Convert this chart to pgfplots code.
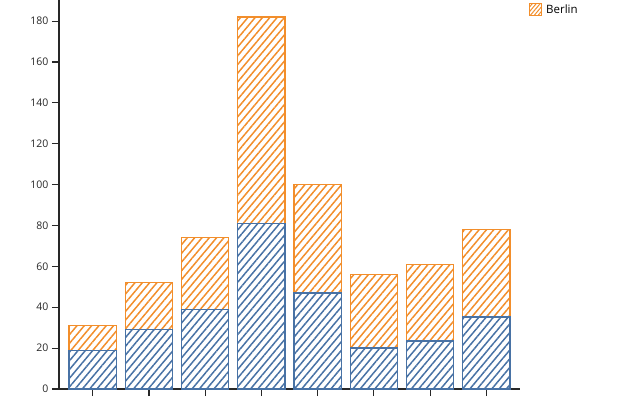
\documentclass[border=0pt]{standalone}
\usepackage{fontspec}
\setmainfont{Open Sans}
\usepackage{pgfplots}
\pgfplotsset{compat=1.18}
\usetikzlibrary{patterns.meta}
\definecolor{cblue}{RGB}{72,114,165}
\definecolor{corange}{RGB}{242,142,43}
\definecolor{axgray}{RGB}{40,40,40}
\begin{document}
\begin{tikzpicture}
\clip (0,0) rectangle (640pt,400pt);
\begin{axis}[
  at={(59pt,11pt)}, anchor=south west,
  scale only axis, width=461pt, height=408.8pt,
  xmin=-0.6, xmax=7.6, ymin=0, ymax=200,
  ybar stacked, bar width=0.84,
  axis x line*=bottom, axis y line*=left,
  axis line style={-, line width=1.8pt, color=axgray},
  xtick={0,...,7}, xticklabels={},
  ytick={0,20,...,180},
  tick align=outside, major tick length=7pt,
  tick style={line width=1.1pt, color=axgray},
  yticklabel style={font=\fontsize{10.5}{12}\selectfont, color=axgray},
  /pgf/number format/assume math mode=true,
  legend style={at={(1.013,0.951)}, anchor=north west, draw=none, fill=none,
    font=\fontsize{11.5}{13}\selectfont,
    nodes={inner xsep=4pt}},
  legend cell align=left,
  legend entries={,Berlin},
]
\addplot+[draw=cblue, line width=1.3pt,
  pattern={Lines[angle=50, distance=5.6pt, line width=1.5pt]}, pattern color=cblue,
  legend image code/.code={\draw[draw=cblue, line width=0.9pt, pattern={Lines[angle=50, distance=3pt, line width=1pt]}, pattern color=cblue] (0pt,-6pt) rectangle (12pt,6pt);}]
  coordinates {(0,19) (1,29) (2,39) (3,81) (4,47) (5,20) (6,23.5) (7,35.2)};
\addplot+[draw=corange, line width=1.3pt,
  pattern={Lines[angle=50, distance=5.6pt, line width=1.5pt]}, pattern color=corange,
  legend image code/.code={\draw[draw=corange, line width=0.9pt, pattern={Lines[angle=50, distance=3pt, line width=1pt]}, pattern color=corange] (0pt,-6pt) rectangle (12pt,6pt);}]
  coordinates {(0,12) (1,23) (2,35) (3,101) (4,53) (5,36) (6,37.5) (7,43)};
\end{axis}
\end{tikzpicture}
\end{document}
